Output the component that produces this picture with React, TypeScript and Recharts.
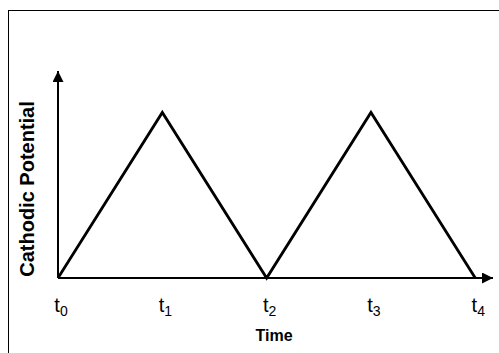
import { LineChart, Line, XAxis, YAxis } from 'recharts';

// triangle wave: cathodic potential at t0..t4
const TIMES = [0, 1, 2, 3, 4];
const POTENTIAL = [0, 1, 0, 1, 0];
const TICK_LABELS = ['0', '1', '2', '3', '4'];

const data = TIMES.map((t, i) => ({ t, v: POTENTIAL[i] }));

const FONT = 'Liberation Sans, Arial, sans-serif';

function TimeTick(props: any) {
  const { x, y, payload } = props;
  return (
    <text x={x + 3} y={y + 26} textAnchor="middle" fill="#000" fontFamily={FONT}>
      <tspan fontSize={20}>t</tspan>
      <tspan fontSize={14} dy={4}>{TICK_LABELS[payload.index]}</tspan>
    </text>
  );
}

export default function App() {
  return (
    <div style={{ position: 'absolute', left: 0, top: 0, width: 499, height: 353, background: '#fff' }}>
      <div
        style={{
          position: 'absolute',
          left: 8,
          top: 10,
          width: 491,
          height: 343,
          borderLeft: '1.5px solid #000',
          borderTop: '1.5px solid #000',
        }}
      />
      <LineChart
        width={499}
        height={353}
        data={data}
        margin={{ top: 71, right: 6, bottom: 30, left: 8 }}
        style={{ position: 'absolute', left: 0, top: 0 }}
      >
        <defs>
          <marker
            id="arrowHead"
            viewBox="0 0 10 10"
            refX="10"
            refY="5"
            markerWidth="11"
            markerHeight="11"
            markerUnits="userSpaceOnUse"
            orient="auto-start-reverse"
          >
            <path d="M0,0 L10,5 L0,10 z" fill="#000" />
          </marker>
        </defs>
        <XAxis
          dataKey="t"
          type="number"
          domain={[0, 4.17]}
          ticks={TIMES}
          height={45}
          tickLine={false}
          axisLine={{ stroke: '#000', strokeWidth: 2, markerEnd: 'url(#arrowHead)' } as any}
          tick={<TimeTick />}
          label={{
            content: () => (
              <text x={274} y={341} textAnchor="middle" fontFamily={FONT} fontWeight="bold" fontSize={16} fill="#000">
                Time
              </text>
            ),
          }}
        />
        <YAxis
          type="number"
          domain={[0, 1.25]}
          width={50}
          tick={false}
          tickLine={false}
          axisLine={{ stroke: '#000', strokeWidth: 2, markerStart: 'url(#arrowHead)' } as any}
          label={{
            content: () => (
              <text
                x={34}
                y={189}
                transform="rotate(-90 34 189)"
                textAnchor="middle"
                fontFamily={FONT}
                fontWeight="bold"
                fontSize={20}
                fill="#000"
              >
                Cathodic Potential
              </text>
            ),
          }}
        />
        <Line
          type="linear"
          dataKey="v"
          stroke="#000"
          strokeWidth={2.8}
          dot={false}
          isAnimationActive={false}
        />
      </LineChart>
    </div>
  );
}
